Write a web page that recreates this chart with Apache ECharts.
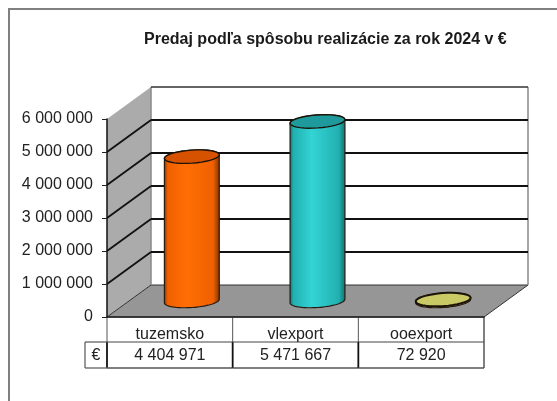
<!DOCTYPE html>
<html>
<head>
<meta charset="utf-8">
<script src="https://cdn.jsdelivr.net/npm/echarts@6/dist/echarts.min.js"></script>
<style>
  html, body { margin: 0; padding: 0; background: #fff; }
  #chart { width: 557px; height: 401px; }
</style>
</head>
<body>
<div id="chart"></div>
<script>
var chartTitle = 'Predaj podľa spôsobu realizácie za rok 2024 v €';
var categories = ['tuzemsko', 'vlexport', 'ooexport'];
var values = [4404971, 5471667, 72920];
var yTicks = [0, 1000000, 2000000, 3000000, 4000000, 5000000, 6000000];
var unitLabel = '€';

var barColors = [
  { edge: '#7d3200', mid: '#ff6e05', side: '#f06000', top: '#d65200' },
  { edge: '#0f6f70', mid: '#33d4d4', side: '#22b0b1', top: '#1f9a9c' },
  { edge: '#6d6d30', mid: '#c9c966', side: '#b5b558', top: '#c9c966' }
];

// fake 3d depth of the excel chart, in px
var depthX = 44;
var depthY = -32;
var barRx = 27.5;
var barRy = 6.5;
var barTilt = 0.07;
var rowH = 26;
var headH = 25;

function fmt(v) {
  return String(v).replace(/\B(?=(\d{3})+$)/g, ' ');
}

function seg(x1, y1, x2, y2, color, width) {
  return { type: 'line', shape: { x1: x1, y1: y1, x2: x2, y2: y2 }, style: { stroke: color, lineWidth: width } };
}

function ellipseArc(cx, cy, from, to) {
  var pts = [];
  var n = 36;
  for (var i = 0; i <= n; i++) {
    var t = from + (to - from) * i / n;
    pts.push([
      cx + barRx * Math.cos(t) * Math.cos(barTilt) + barRy * Math.sin(t) * Math.sin(barTilt),
      cy - barRx * Math.cos(t) * Math.sin(barTilt) + barRy * Math.sin(t) * Math.cos(barTilt)
    ]);
  }
  return pts;
}

function renderWalls(params, api) {
  var x0 = api.coord([0, 0])[0] - api.size([1, 0])[0] / 2;
  var x1 = x0 + api.size([1, 0])[0] * categories.length;
  var y0 = api.coord([0, 0])[1];
  var yMax = yTicks[yTicks.length - 1];
  var yTop = api.coord([0, yMax])[1];
  var kids = [];
  kids.push({
    type: 'polygon',
    shape: { points: [[x0, yTop], [x0 + depthX, yTop + depthY], [x0 + depthX, y0 + depthY], [x0, y0]] },
    style: { fill: '#ababab' }
  });
  kids.push({
    type: 'polygon',
    shape: { points: [[x0, y0], [x0 + depthX, y0 + depthY], [x1 + depthX, y0 + depthY], [x1, y0]] },
    style: { fill: '#969696', stroke: '#333', lineWidth: 1 }
  });
  kids.push(seg(x0 + depthX, y0 + depthY, x0 + depthX, yTop + depthY, '#888', 1.5));
  kids.push(seg(x1 + depthX, y0 + depthY, x1 + depthX, yTop + depthY, '#888', 1.5));
  kids.push(seg(x0 + depthX, yTop + depthY, x1 + depthX, yTop + depthY, '#333', 1.5));
  yTicks.forEach(function (t) {
    if (t === 0 || t === yMax) return;
    var y = api.coord([0, t])[1];
    kids.push(seg(x0, y, x0 + depthX, y + depthY, '#111', 1.8));
    kids.push(seg(x0 + depthX, y + depthY, x1 + depthX, y + depthY, '#111', 1.8));
  });
  return { type: 'group', children: kids };
}

function renderCylinder(params, api) {
  var i = api.value(0);
  var c = barColors[i];
  var base = api.coord([i, 0]);
  var head = api.coord([i, api.value(1)]);
  var cx = base[0] + depthX / 2;
  var by = base[1] + depthY / 2;
  var ty = head[1] + depthY / 2 + 1;
  var lower = ellipseArc(cx, by, 0, Math.PI);
  var body = lower.concat(ellipseArc(cx, ty, Math.PI, 2 * Math.PI));
  return {
    type: 'group',
    children: [{
      type: 'polygon',
      shape: { points: body },
      style: {
        fill: new echarts.graphic.LinearGradient(0, 0, 1, 0, [
          { offset: 0, color: c.edge },
          { offset: 0.07, color: c.side },
          { offset: 0.4, color: c.mid },
          { offset: 0.88, color: c.side },
          { offset: 1, color: c.edge }
        ]),
        stroke: '#2a1a10',
        lineWidth: 1.2
      }
    }, {
      type: 'polygon',
      shape: { points: ellipseArc(cx, ty, 0, 2 * Math.PI) },
      style: { fill: c.top, stroke: '#1c1408', lineWidth: i === 2 ? 2 : 1.4 }
    }]
  };
}

function renderTable(params, api) {
  var i = api.value(0);
  var base = api.coord([i, 0]);
  var w = api.size([1, 0])[0];
  var left = base[0] - w / 2;
  var y0 = base[1];
  var y1 = y0 + headH;
  var y2 = y1 + rowH;
  var font = '16px "Liberation Sans"';
  var kids = [
    seg(left, y0, left, y1, '#555', 1),
    seg(left, y1, left, y2, '#111', 1.8),
    seg(left, y1, left + w, y1, '#444', 1.2),
    seg(left, y2, left + w, y2, '#555', 1.5),
    {
      type: 'text',
      x: left + w / 2, y: (y1 + y2) / 2 + 1,
      style: { text: fmt(api.value(1)), fill: '#222', font: font, textAlign: 'center', textVerticalAlign: 'middle' }
    }
  ];
  if (i === categories.length - 1) {
    kids.push(seg(left + w, y0, left + w, y2, '#555', 1.5));
  }
  if (i === 0) {
    kids.push(seg(left - 22, y1, left, y1, '#555', 1.2));
    kids.push(seg(left - 22, y1, left - 22, y2, '#555', 1.2));
    kids.push(seg(left - 22, y2, left, y2, '#555', 1.2));
    kids.push({
      type: 'text',
      x: left - 11, y: (y1 + y2) / 2 + 1,
      style: { text: unitLabel, fill: '#222', font: font, textAlign: 'center', textVerticalAlign: 'middle' }
    });
  }
  return { type: 'group', children: kids };
}

var rows = categories.map(function (c, i) { return [i, values[i]]; });

var option = {
  animation: false,
  backgroundColor: '#fff',
  textStyle: { fontFamily: 'Liberation Sans' },
  title: {
    text: chartTitle,
    left: 139,
    top: 27,
    textStyle: { fontSize: 16, fontWeight: 'bold', color: '#1a1a1a', fontFamily: 'Liberation Sans' }
  },
  graphic: [
    { type: 'line', shape: { x1: 8, y1: 9, x2: 557, y2: 9 }, style: { stroke: '#808080', lineWidth: 2 } },
    { type: 'line', shape: { x1: 9, y1: 9, x2: 9, y2: 401 }, style: { stroke: '#808080', lineWidth: 2 } }
  ],
  grid: { left: 107, top: 119, width: 377, height: 198 },
  xAxis: {
    type: 'category',
    data: categories,
    z: 6,
    axisLine: { lineStyle: { color: '#222', width: 1.5 } },
    axisTick: { show: false },
    axisLabel: { fontSize: 16, color: '#222', margin: 10 }
  },
  yAxis: {
    type: 'value',
    min: 0,
    max: 6000000,
    interval: 1000000,
    z: 6,
    axisLine: { show: true, lineStyle: { color: '#111', width: 1.5 } },
    axisTick: { show: true, length: 5, lineStyle: { color: '#222' } },
    splitLine: { show: false },
    axisLabel: { fontSize: 16, color: '#222', margin: 14, formatter: fmt }
  },
  series: [
    { type: 'custom', name: 'walls', renderItem: renderWalls, data: [[0, 0]], clip: false, z: 1, silent: true },
    { type: 'custom', name: 'predaj', renderItem: renderCylinder, data: rows, clip: false, z: 3 },
    { type: 'custom', name: 'tabulka', renderItem: renderTable, data: rows, clip: false, z: 4, silent: true }
  ]
};

var myChart = echarts.init(document.getElementById('chart'));
myChart.setOption(option, true);
</script>
</body>
</html>
